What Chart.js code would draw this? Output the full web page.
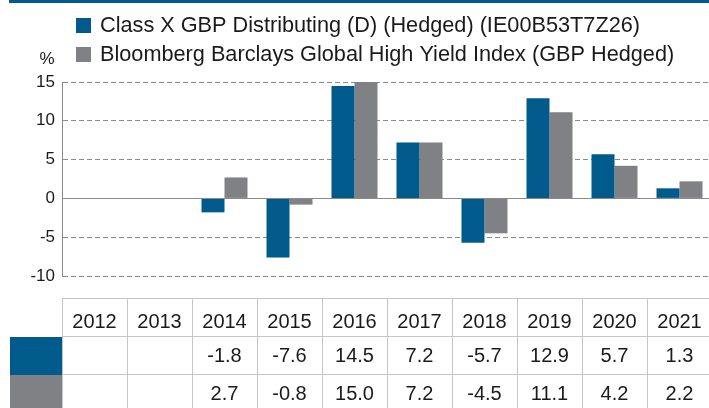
<!DOCTYPE html>
<html>
<head>
<meta charset="utf-8">
<script src="https://cdn.jsdelivr.net/npm/chart.js@4/dist/chart.umd.min.js"></script>
<style>
  html, body { margin: 0; padding: 0; background: #fff; overflow: hidden; }
  #wrap { width: 709px; height: 408px; overflow: hidden; position: relative; }
  canvas { display: block; }
</style>
</head>
<body>
<div id="wrap"><canvas id="c" width="712" height="408"></canvas></div>
<script>
const years = ['2012', '2013', '2014', '2015', '2016', '2017', '2018', '2019', '2020', '2021'];
const fundValues = [null, null, -1.8, -7.6, 14.5, 7.2, -5.7, 12.9, 5.7, 1.3];
const indexValues = [null, null, 2.7, -0.8, 15.0, 7.2, -4.5, 11.1, 4.2, 2.2];
const seriesNames = ['Class X GBP Distributing (D) (Hedged) (IE00B53T7Z26)', 'Bloomberg Barclays Global High Yield Index (GBP Hedged)'];
const yMin = -10, yMax = 15, yStep = 5;
const unitLabel = '%';

const BLUE = '#005A8C';
const GREY = '#808185';
const FONT = '"Liberation Sans", Arial, sans-serif';

const extras = {
  id: 'extras',
  afterDraw(chart) {
    const ctx = chart.ctx;
    const ca = chart.chartArea;
    const xs = chart.scales.x;
    const ys = chart.scales.y;
    ctx.save();
    // top band
    ctx.fillStyle = BLUE;
    ctx.fillRect(9, 0, 703, 3);
    // zero line
    const y0 = Math.round(ys.getPixelForValue(0)) + 0.5;
    ctx.strokeStyle = '#8a8a8a';
    ctx.lineWidth = 1;
    ctx.setLineDash([]);
    ctx.beginPath(); ctx.moveTo(ca.left, y0); ctx.lineTo(ca.right, y0); ctx.stroke();
    // unit label
    ctx.fillStyle = '#1a1a1a';
    ctx.font = '17px ' + FONT;
    ctx.textAlign = 'left'; ctx.textBaseline = 'middle';
    ctx.fillText(unitLabel, 39.5, 59);
    // legend
    const colors = [BLUE, GREY];
    const legY = [25.5, 54.5];
    ctx.font = '21.7px ' + FONT;
    chart.data.datasets.forEach((ds, i) => {
      ctx.fillStyle = colors[i];
      ctx.fillRect(76, legY[i] - 7.5, 15, 15);
      ctx.fillStyle = '#1a1a1a';
      ctx.fillText(ds.label, 100, legY[i] + 1);
    });
    // table
    const n = years.length;
    const colW = (ca.right - ca.left) / n;
    const tTop = 298.5, r1 = 336.5, r2 = 374.5, tBot = 408;
    ctx.fillStyle = BLUE; ctx.fillRect(10, 337, 52, 38);
    ctx.fillStyle = GREY; ctx.fillRect(10, 375, 52, 33);
    ctx.strokeStyle = '#c6c6c6'; ctx.lineWidth = 1;
    ctx.beginPath();
    ctx.moveTo(ca.left, tTop); ctx.lineTo(ca.right, tTop);
    ctx.moveTo(ca.left, r1); ctx.lineTo(ca.right, r1);
    ctx.moveTo(ca.left, r2); ctx.lineTo(ca.right, r2);
    for (let i = 0; i <= n; i++) {
      const x = Math.round(ca.left + i * colW) + 0.5;
      ctx.moveTo(x, tTop); ctx.lineTo(x, tBot);
    }
    ctx.stroke();
    ctx.fillStyle = '#1a1a1a';
    ctx.font = '20px ' + FONT;
    ctx.textAlign = 'center';
    const rows = [chart.data.datasets[0].data, chart.data.datasets[1].data];
    years.forEach((yr, i) => {
      const cx = xs.getPixelForValue(i);
      ctx.fillText(yr, cx, 322);
      rows.forEach((r, k) => {
        if (r[i] !== null && r[i] !== undefined) {
          ctx.fillText(r[i].toFixed(1), cx, k === 0 ? 356 : 394);
        }
      });
    });
    ctx.restore();
  }
};

new Chart(document.getElementById('c'), {
  type: 'bar',
  data: {
    labels: years,
    datasets: [
      { label: seriesNames[0], data: fundValues, backgroundColor: BLUE, borderWidth: 0 },
      { label: seriesNames[1], data: indexValues, backgroundColor: GREY, borderWidth: 0 }
    ]
  },
  options: {
    responsive: false,
    animation: false,
    events: [],
    devicePixelRatio: 1,
    layout: { padding: { top: 82, bottom: 132, left: 0, right: 0 } },
    datasets: { bar: { categoryPercentage: 46 / 65, barPercentage: 1.0 } },
    plugins: { legend: { display: false }, tooltip: { enabled: false } },
    scales: {
      x: { display: false, offset: true },
      y: {
        min: yMin, max: yMax,
        ticks: { stepSize: yStep, padding: 7, color: '#1a1a1a', font: { family: FONT, size: 17 } },
        grid: { color: '#8c8c8c', lineWidth: 1, drawTicks: false },
        border: { display: true, color: '#8a8a8a', width: 1, dash: [5, 3] },
        afterFit(scale) { scale.width = 62; }
      }
    }
  },
  plugins: [extras]
});
</script>
</body>
</html>
